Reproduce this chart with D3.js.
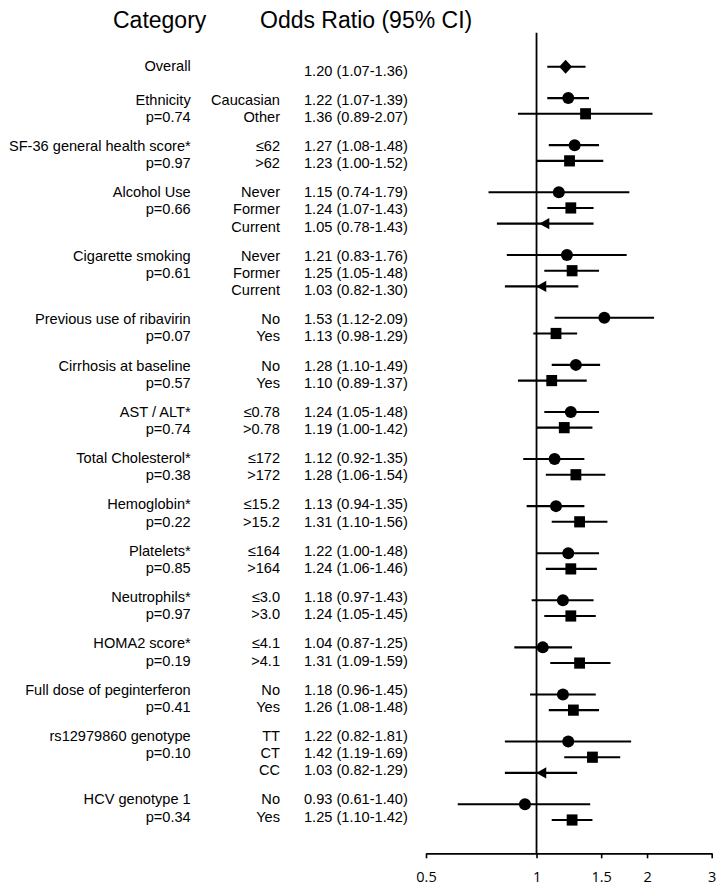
<!DOCTYPE html>
<html>
<head>
<meta charset="utf-8">
<script src="https://cdn.jsdelivr.net/npm/d3@7"></script>
<style>
  html, body { margin: 0; padding: 0; background: #fff; }
  svg { display: block; }
</style>
</head>
<body>
<script>
// ---- Data ----
const groupLabels = ["Overall", "Ethnicity", "SF-36 general health score*", "Alcohol Use", "Cigarette smoking",
  "Previous use of ribavirin", "Cirrhosis at baseline", "AST / ALT*", "Total Cholesterol*", "Hemoglobin*",
  "Platelets*", "Neutrophils*", "HOMA2 score*", "Full dose of peginterferon", "rs12979860 genotype", "HCV genotype 1"];
const groupPValues = ["", "p=0.74", "p=0.97", "p=0.66", "p=0.61", "p=0.07", "p=0.57", "p=0.74", "p=0.38",
  "p=0.22", "p=0.85", "p=0.97", "p=0.19", "p=0.41", "p=0.10", "p=0.34"];
const groupSizes = [1, 2, 2, 3, 3, 2, 2, 2, 2, 2, 2, 2, 2, 2, 3, 2];
const subgroups = ["", "Caucasian", "Other", "≤62", ">62", "Never", "Former", "Current", "Never", "Former", "Current",
  "No", "Yes", "No", "Yes", "≤0.78", ">0.78", "≤172", ">172", "≤15.2", ">15.2", "≤164", ">164",
  "≤3.0", ">3.0", "≤4.1", ">4.1", "No", "Yes", "TT", "CT", "CC", "No", "Yes"];
const oddsRatio = [1.20, 1.22, 1.36, 1.27, 1.23, 1.15, 1.24, 1.05, 1.21, 1.25, 1.03, 1.53, 1.13, 1.28, 1.10,
  1.24, 1.19, 1.12, 1.28, 1.13, 1.31, 1.22, 1.24, 1.18, 1.24, 1.04, 1.31, 1.18, 1.26, 1.22, 1.42, 1.03, 0.93, 1.25];
const ciLower = [1.07, 1.07, 0.89, 1.08, 1.00, 0.74, 1.07, 0.78, 0.83, 1.05, 0.82, 1.12, 0.98, 1.10, 0.89,
  1.05, 1.00, 0.92, 1.06, 0.94, 1.10, 1.00, 1.06, 0.97, 1.05, 0.87, 1.09, 0.96, 1.08, 0.82, 1.19, 0.82, 0.61, 1.10];
const ciUpper = [1.36, 1.39, 2.07, 1.48, 1.52, 1.79, 1.43, 1.43, 1.76, 1.48, 1.30, 2.09, 1.29, 1.49, 1.37,
  1.48, 1.42, 1.35, 1.54, 1.35, 1.56, 1.48, 1.46, 1.43, 1.45, 1.25, 1.59, 1.45, 1.48, 1.81, 1.69, 1.29, 1.40, 1.42];
const xTicks = [0.5, 1, 1.5, 2, 3];
const headers = ["Category", "Odds Ratio (95% CI)"];

// ---- Build rows ----
const rows = [];
let line = 0;
groupSizes.forEach((n, g) => {
  for (let k = 0; k < n; k++) {
    rows.push({
      line: line, group: g, within: k,
      sub: subgroups[line], or: oddsRatio[line], lo: ciLower[line], hi: ciUpper[line],
      shape: g === 0 ? "diamond" : ["circle", "square", "triangle"][k]
    });
    line++;
  }
});

const W = 724, H = 891;
const svg = d3.select("body").append("svg").attr("width", W).attr("height", H);

const FONT = "'Liberation Sans', Arial, Helvetica, sans-serif";

// scales
const x = d3.scaleLog().domain([0.5, 3]).range([426, 711.7]);
const yMark = d3.scaleLinear().domain([0, 48]).range([66.7, 820]);   // marker row index (includes blank rows)
const yLine = d3.scaleLinear().domain([0, 1]).range([70.3, 87.5]);     // text line step
const GROUP_GAP = 11.9;
const textY = r => yLine(r.line) + r.group * GROUP_GAP;
const markY = r => yMark(r.line + r.group);

// headers
svg.append("text").attr("x", 113).attr("y", 27.5).attr("font-family", FONT).attr("font-size", 23)
  .text(headers[0]);
svg.append("text").attr("x", 260).attr("y", 27.5).attr("font-family", FONT).attr("font-size", 23)
  .text(headers[1]);

// reference line at OR = 1
const axisY = 853.3;
svg.append("line").attr("x1", x(1)).attr("x2", x(1)).attr("y1", 32.7).attr("y2", axisY)
  .attr("stroke", "#000").attr("stroke-width", 1.8);

// axis
const axisG = svg.append("g").attr("transform", `translate(0,${axisY})`)
  .call(d3.axisBottom(x).tickValues(xTicks).tickFormat(d3.format("")).tickSize(5).tickSizeOuter(0));
axisG.select(".domain").attr("stroke", "#000").attr("stroke-width", 1.8);
axisG.selectAll(".tick line").attr("stroke", "#000").attr("stroke-width", 1.6);
axisG.selectAll(".tick text").attr("font-family", "'Open Sans', 'Noto Sans', sans-serif")
  .attr("font-size", 14.5).attr("fill", "#000").attr("dy", "1.42em");

// group labels
const bodySize = 14.6;
groupLabels.forEach((lab, g) => {
  const first = rows.find(r => r.group === g);
  const y0 = textY(first) + (g === 0 ? -5 : 0);
  svg.append("text").attr("x", 190.7).attr("y", y0).attr("dy", "0.36em")
    .attr("text-anchor", "end").attr("font-family", FONT).attr("font-size", bodySize).text(lab);
  if (groupPValues[g]) {
    svg.append("text").attr("x", 190.7).attr("y", y0 + (yLine(1) - yLine(0))).attr("dy", "0.36em")
      .attr("text-anchor", "end").attr("font-family", FONT).attr("font-size", bodySize).text(groupPValues[g]);
  }
});

const f2 = d3.format(".2f");
// subgroup & value text
svg.append("g").selectAll("text.sub").data(rows).join("text")
  .attr("x", 280).attr("y", textY).attr("dy", "0.36em").attr("text-anchor", "end")
  .attr("font-family", FONT).attr("font-size", bodySize).text(d => d.sub);
svg.append("g").selectAll("text.val").data(rows).join("text")
  .attr("x", 304).attr("y", textY).attr("dy", "0.36em")
  .attr("font-family", FONT).attr("font-size", bodySize)
  .text(d => `${f2(d.or)} (${f2(d.lo)}-${f2(d.hi)})`);

// CI lines
svg.append("g").selectAll("line").data(rows).join("line")
  .attr("x1", d => x(d.lo)).attr("x2", d => x(d.hi))
  .attr("y1", markY).attr("y2", markY)
  .attr("stroke", "#000").attr("stroke-width", 2.1);

// markers
const shapePath = {
  diamond: "M0,-7L6.4,0L0,7L-6.4,0Z",
  square: "M-5.4,-5.6H5.4V5.6H-5.4Z",
  triangle: "M-5,0L5,-5.6L5,5.6Z"
};
const mk = svg.append("g");
rows.forEach(r => {
  if (r.shape === "circle") {
    mk.append("circle").attr("cx", x(r.or)).attr("cy", markY(r)).attr("r", 6).attr("fill", "#000");
  } else {
    mk.append("path").attr("d", shapePath[r.shape])
      .attr("transform", `translate(${x(r.or)},${markY(r)})`).attr("fill", "#000");
  }
});
</script>
</body>
</html>
